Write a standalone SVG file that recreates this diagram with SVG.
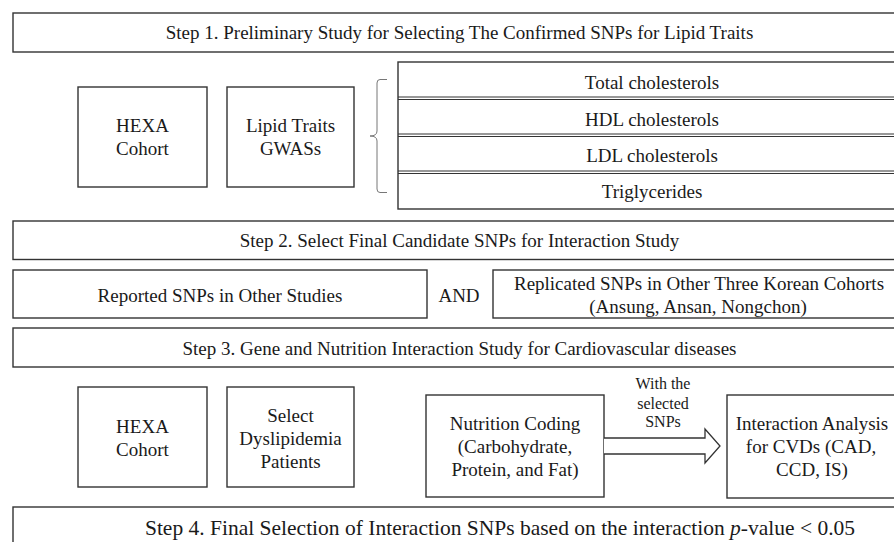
<svg xmlns="http://www.w3.org/2000/svg" width="894" height="542" viewBox="0 0 894 542">
<style>
.box{fill:#fff;stroke:#333;stroke-width:1.4}
.t{font-family:"Liberation Serif","Times New Roman",serif;font-size:19px;fill:#1a1a1a;text-anchor:middle}
.s{font-size:16px}
.big{font-size:21.5px}
.sep{stroke:#333;stroke-width:1.2}
.brace{fill:none;stroke:#777;stroke-width:1}
.arrow{fill:#fff;stroke:#333;stroke-width:1.3;stroke-linejoin:miter}
</style>
<rect width="894" height="542" fill="#fff"/>

<g id="step1">
<rect class="box" x="13" y="13" width="893" height="39"/>
<text class="t" x="459.5" y="39">Step 1. Preliminary Study for Selecting The Confirmed SNPs for Lipid Traits</text>
</g>

<g id="hexa1">
<rect class="box" x="78" y="87" width="129" height="100"/>
<text class="t" x="142.5" y="132">HEXA</text>
<text class="t" x="142.5" y="155">Cohort</text>
</g>

<g id="gwas">
<rect class="box" x="227" y="87" width="127" height="100"/>
<text class="t" x="290.5" y="132">Lipid Traits</text>
<text class="t" x="290.5" y="155">GWASs</text>
</g>

<g id="lipids">
<rect class="box" x="398" y="62" width="508" height="147"/>
<line class="sep" x1="398" y1="97" x2="906" y2="97"/>
<line class="sep" x1="398" y1="99.5" x2="906" y2="99.5"/>
<line class="sep" x1="398" y1="134" x2="906" y2="134"/>
<line class="sep" x1="398" y1="136.5" x2="906" y2="136.5"/>
<line class="sep" x1="398" y1="171" x2="906" y2="171"/>
<line class="sep" x1="398" y1="173.5" x2="906" y2="173.5"/>
<text class="t" x="652" y="89">Total cholesterols</text>
<text class="t" x="652" y="125.5">HDL cholesterols</text>
<text class="t" x="652" y="162">LDL cholesterols</text>
<text class="t" x="652" y="198">Triglycerides</text>
</g>

<g id="step2">
<rect class="box" x="13" y="221" width="893" height="38.5"/>
<text class="t" x="459.5" y="246.5">Step 2. Select Final Candidate SNPs for Interaction Study</text>
</g>

<g id="reported">
<rect class="box" x="13" y="270" width="414" height="48"/>
<text class="t" x="220" y="301.5">Reported SNPs in Other Studies</text>
</g>

<g id="and">
<text class="t" x="459" y="301.5">AND</text>
</g>

<g id="replicated">
<rect class="box" x="493" y="270" width="413" height="48"/>
<text class="t" x="699" y="290">Replicated SNPs in Other Three Korean Cohorts</text>
<text class="t" x="698" y="313">(Ansung, Ansan, Nongchon)</text>
</g>

<g id="step3">
<rect class="box" x="13" y="328" width="893" height="39"/>
<text class="t" x="459.5" y="355">Step 3. Gene and Nutrition Interaction Study for Cardiovascular diseases</text>
</g>

<g id="hexa2">
<rect class="box" x="78" y="387" width="129" height="100"/>
<text class="t" x="142.5" y="433">HEXA</text>
<text class="t" x="142.5" y="456">Cohort</text>
</g>

<g id="dyslipidemia">
<rect class="box" x="227" y="387" width="127" height="100"/>
<text class="t" x="290.5" y="422">Select</text>
<text class="t" x="290.5" y="445">Dyslipidemia</text>
<text class="t" x="290.5" y="467.5">Patients</text>
</g>

<g id="nutrition">
<rect class="box" x="426" y="395" width="178" height="102"/>
<text class="t" x="515" y="430">Nutrition Coding</text>
<text class="t" x="515" y="453">(Carbohydrate,</text>
<text class="t" x="515" y="476">Protein, and Fat)</text>
</g>

<g id="interaction">
<rect class="box" x="727" y="395" width="175" height="103"/>
<text class="t" x="812" y="430">Interaction Analysis</text>
<text class="t" x="811" y="453">for CVDs (CAD,</text>
<text class="t" x="812" y="476">CCD, IS)</text>
</g>

<g id="connectors">
<path class="brace" d="M387,79.5 L380,79.5 Q377,79.5 377,83 L377,131 Q377,136 370,136 Q377,136 377,141 L377,189 Q377,192.5 380,192.5 L387,192.5"/>
<path class="arrow" d="M604,438 L705,438 L705,429 L720,446 L705,463 L705,454 L604,454"/>
<text class="t s" x="663" y="389">With the</text>
<text class="t s" x="663" y="408.5">selected</text>
<text class="t s" x="663" y="427">SNPs</text>
</g>

<g id="step4">
<rect class="box" x="13" y="507" width="893" height="45"/>
<text class="t big" x="500" y="535">Step 4. Final Selection of Interaction SNPs based on the interaction <tspan font-style="italic">p</tspan>-value &lt; 0.05</text>
</g>
</svg>
